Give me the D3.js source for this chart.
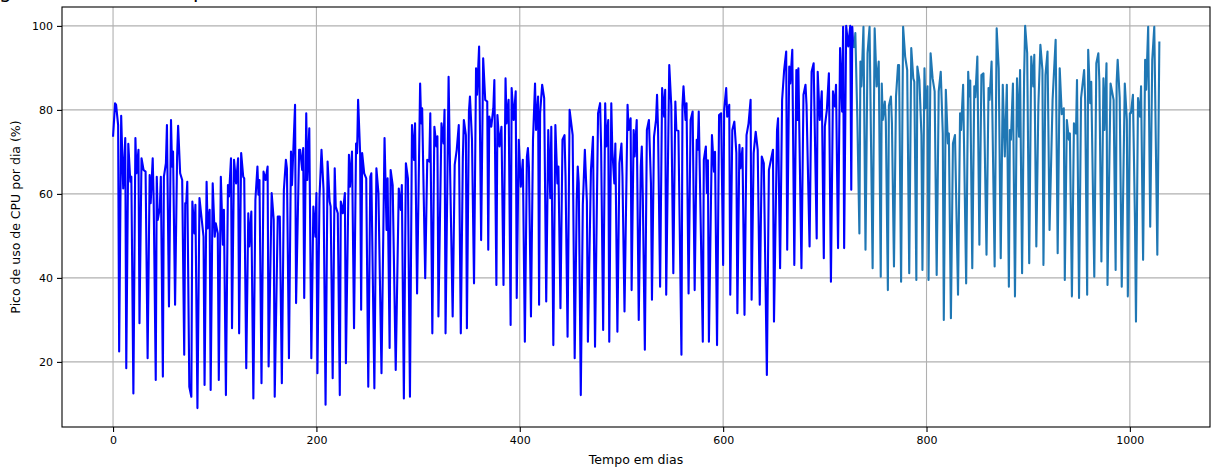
<!DOCTYPE html>
<html>
<head>
<meta charset="utf-8">
<script src="https://cdn.jsdelivr.net/npm/d3@7"></script>
<style>
html,body{margin:0;padding:0;background:#fff;}
svg{display:block;}
text{font-family:"DejaVu Sans",sans-serif;}
</style>
</head>
<body>
<svg id="chart" width="1212" height="468"></svg>
<script>
const xTicks = [0, 200, 400, 600, 800, 1000];
const yTicks = [20, 40, 60, 80, 100];
const xLabel = "Tempo em dias";
const yLabel = "Pico de uso de CPU por dia (%)";

const s1Days = [0,2,3,5,6,8,10,12,13,15,17,18,20,22,23,25,26,28,30,32,34,36,37,39,40,42,43,44,46,47,49,50,52,53,55,57,58,59,61,63,64,66,68,70,71,72,73,75,77,78,80,81,83,85,89,90,92,93,95,96,98,100,101,103,104,106,108,109,111,113,114,116,117,119,121,123,124,126,128,129,131,133,134,136,138,140,142,143,144,146,148,150,152,153,156,158,159,162,164,166,168,170,171,173,175,176,179,180,183,184,186,187,188,190,191,193,195,197,199,200,201,203,205,207,209,211,213,214,216,218,219,221,223,224,226,228,229,232,233,235,237,239,240,241,243,244,245,247,249,251,253,254,257,259,261,264,267,269,270,272,273,275,278,281,283,284,286,288,290,292,294,296,297,299,302,303,304,307,309,311,312,314,316,318,319,320,323,325,326,327,330,331,334,336,338,340,342,344,345,347,348,350,351,353,355,357,358,360,362,364,366,368,369,370,372,374,375,377,378,380,382,384,386,387,389,391,392,394,396,397,399,401,403,405,407,408,409,411,413,415,416,418,419,420,422,424,426,428,430,431,433,435,437,438,440,442,444,445,447,449,451,452,454,456,457,458,460,462,464,466,467,470,472,474,477,479,480,482,484,485,487,488,490,491,493,494,496,498,500,501,503,506,507,509,510,512,513,515,517,519,520,521,523,525,527,529,530,532,534,535,536,538,540,542,543,544,547,549,551,553,554,556,559,560,561,563,564,566,568,570,572,574,575,576,580,581,583,584,585,586,589,591,592,594,596,598,600,601,603,604,606,607,609,611,613,614,616,617,619,621,623,625,627,628,630,632,634,636,638,640,643,645,649,650,653,654,656,658,660,662,663,665,666,668,670,672,673,674,677,679,681,682,685,687,689,692,693,695,697,699,700,702,704,706,708,710,711,713,715,717,718,719,721,723,725,726,727,728];
const s1Vals = [73.6,81.6,81.2,76.4,22.5,78.6,61.3,73.3,18.5,71.9,62.9,64.1,12.5,73.3,64.9,70.5,29.2,68.5,65.7,65.3,20.9,64.5,57.8,68.5,57.8,15.7,64.1,53.8,56.6,64.1,16.5,64.1,67.3,76.4,33.2,77.6,66.5,70.1,33.6,68.9,76.2,64.9,63.3,21.7,57.8,57.9,62.9,14.1,11.7,58.2,50.6,57.4,9.0,59.0,49.8,14.5,62.9,51.8,56.2,13.3,62.5,49.8,53.0,50.6,15.7,64.1,47.9,56.2,12.1,62.1,59.4,68.5,28.0,68.1,62.5,68.5,26.8,69.7,64.1,63.7,18.5,55.4,47.5,55.8,11.3,58.6,66.5,59.8,63.3,14.9,65.3,63.3,66.5,18.9,60.2,53.8,11.7,54.6,54.6,14.9,61.0,68.1,66.1,20.9,70.1,62.1,81.2,34.0,70.5,70.5,65.7,70.9,35.2,79.2,63.3,75.6,20.9,57.0,49.8,60.2,17.3,59.0,70.5,61.0,9.8,67.7,58.2,57.0,16.1,66.1,57.0,55.4,12.1,58.2,55.4,60.2,19.7,69.3,61.7,70.1,28.0,72.0,69.7,82.4,69.7,32.4,69.7,64.9,63.7,14.1,64.1,64.9,13.7,66.1,60.2,17.3,73.3,51.4,63.7,23.3,65.7,62.1,18.1,61.3,56.2,62.1,11.3,67.3,63.7,11.7,76.4,68.1,76.8,36.3,86.3,76.8,80.4,39.9,68.1,67.7,79.2,26.8,76.0,71.3,73.7,30.8,76.8,72.0,80.0,26.8,87.9,72.0,30.8,66.9,70.5,76.4,26.8,68.5,77.6,74.0,28.0,79.6,83.2,72.9,38.7,89.9,83.6,95.1,49.0,92.3,82.4,82.0,46.7,78.4,76.0,80.4,87.1,38.3,78.8,71.3,76.0,38.3,87.5,76.8,82.4,28.8,85.2,77.6,84.4,35.2,72.9,61.7,68.1,24.8,68.9,70.9,66.5,30.8,72.9,86.3,75.2,83.2,33.6,79.2,86.0,82.8,34.4,75.2,59.0,76.0,24.0,76.4,62.5,66.5,32.8,72.9,74.0,64.1,26.0,80.0,76.0,74.0,20.9,58.6,66.5,62.5,12.1,57.4,70.5,58.2,24.8,65.7,73.6,23.6,79.2,81.6,71.0,27.6,81.6,71.3,77.6,24.8,81.6,70.5,62.5,72.0,27.2,67.3,72.0,64.1,32.0,81.2,75.2,78.0,37.1,75.2,68.9,77.6,30.0,66.5,71.3,59.4,22.9,75.2,77.6,62.5,34.8,73.6,77.6,83.6,75.2,37.9,85.2,78.4,84.8,36.0,90.7,81.0,41.1,82.0,75.2,75.0,21.7,81.0,85.6,77.6,81.6,36.3,77.6,79.6,37.1,72.9,70.5,79.6,24.8,68.1,71.3,60.2,68.0,24.8,74.0,65.3,70.0,24.0,78.8,79.2,43.1,80.0,85.2,78.4,81.2,36.0,75.2,77.2,69.7,31.6,71.7,66.1,70.9,31.2,74.0,76.8,82.4,34.8,69.7,74.8,70.5,33.6,68.9,67.3,16.9,65.7,70.5,29.6,75.2,78.0,42.3,82.4,89.5,93.9,46.7,90.3,86.3,94.3,43.1,89.5,77.6,89.9,42.3,83.6,86.0,81.2,47.5,89.1,91.1,49.4,89.1,77.6,84.4,44.7,76.0,80.0,88.7,39.1,84.4,80.8,86.0,47.1,94.7,79.6,99.8,47.1,100,95.1,100,61.0,99.8,94.7];

const s2Days = [729,730,732,734,735,736,738,740,742,744,747,749,751,753,755,756,757,759,760,762,763,765,766,768,770,772,773,775,777,779,781,783,785,787,788,790,791,793,795,796,798,799,801,802,804,806,808,810,812,814,816,817,819,821,822,824,826,828,831,833,834,836,839,841,842,843,845,847,848,850,852,854,856,857,859,861,862,864,867,869,871,873,875,877,879,881,882,883,885,887,889,891,892,894,896,897,899,901,903,905,906,908,910,912,914,915,917,919,921,924,927,929,931,933,935,936,938,940,941,943,945,947,948,950,952,955,956,958,959,961,962,965,967,969,970,972,974,975,977,978,981,984,986,987,988,990,992,995,997,998,1000,1001,1003,1005,1006,1008,1010,1011,1013,1015,1016,1018,1020,1022,1024,1027,1029];
const s2Vals = [94.7,98.3,77.6,50.6,91.5,85.6,99.8,46.7,93.5,99.8,42.3,99.4,85.6,91.5,40.3,86.3,77.6,82.0,77.0,37.1,81.0,83.2,76.8,42.7,83.2,90.7,90.7,39.1,99.8,92.7,89.5,41.1,94.7,87.5,86.7,39.5,90.3,87.1,74.0,41.9,89.9,80.4,85.6,39.5,93.5,87.5,84.4,40.7,84.4,89.1,74.4,30.0,84.8,72.0,74.4,30.4,72.0,74.0,36.0,79.2,75.2,86.0,38.7,89.1,83.2,87.0,42.3,85.6,83.0,92.7,47.9,88.3,88.7,75.2,45.5,85.2,82.4,91.5,42.7,99.4,89.9,44.7,86.0,68.9,86.0,37.9,75.2,72.9,86.3,35.6,87.5,73.6,89.5,41.1,87.9,100,93.5,43.5,92.7,85.6,93.1,47.5,81.0,95.5,89.5,43.1,88.3,93.9,51.4,82.4,96.7,45.9,89.9,79.0,80.4,39.5,77.6,72.9,74.4,35.6,76.8,74.4,87.1,35.2,82.8,89.5,82.4,36.0,94.3,81.6,86.7,40.3,91.1,93.5,86.7,43.9,87.5,75.2,91.1,38.3,86.3,82.4,41.9,86.7,91.9,82.8,37.9,86.3,77.6,35.6,79.2,79.2,83.6,53.8,29.6,82.8,78.4,85.6,44.3,91.9,84.8,99.8,52.2,91.9,99.8,45.5,96.3];

const svg = d3.select("#chart");
const L = 62, R = 1210, T = 7, B = 427;

const x = d3.scaleLinear().domain([-50.2, 1078.8]).range([L, R]);
const y = d3.scaleLinear().domain([4.5, 104.5]).range([B, T]);

// title fragments (cut off at top in reference)
svg.append("text").attr("x", -1).attr("y", -2).attr("font-family", "Liberation Serif").attr("font-size", 20).text("g");
svg.append("text").attr("x", 193).attr("y", -2).attr("font-family", "Liberation Serif").attr("font-size", 20).text("p");

// grid
const grid = svg.append("g");
grid.selectAll(".gx").data(xTicks).join("line")
  .attr("x1", d => x(d)).attr("x2", d => x(d)).attr("y1", T).attr("y2", B)
  .attr("stroke", "#b0b0b0").attr("stroke-width", 1.1);
grid.selectAll(".gy").data(yTicks).join("line")
  .attr("y1", d => y(d)).attr("y2", d => y(d)).attr("x1", L).attr("x2", R)
  .attr("stroke", "#b0b0b0").attr("stroke-width", 1.1);

svg.append("defs").append("clipPath").attr("id", "clip")
  .append("rect").attr("x", L).attr("y", T).attr("width", R - L).attr("height", B - T);

const line = d3.line().x(d => x(d[0])).y(d => y(d[1]));
const plot = svg.append("g").attr("clip-path", "url(#clip)");
plot.append("path").datum(s1Days.map((d, i) => [d, s1Vals[i]]))
  .attr("d", line).attr("fill", "none").attr("stroke", "#0000ff").attr("stroke-width", 2.1).attr("stroke-linejoin", "round");
plot.append("path").datum(s2Days.map((d, i) => [d, s2Vals[i]]))
  .attr("d", line).attr("fill", "none").attr("stroke", "#1f77b4").attr("stroke-width", 2.1).attr("stroke-linejoin", "round");

// axes
const xAxis = d3.axisBottom(x).tickValues(xTicks).tickFormat(d3.format("d")).tickSize(5).tickPadding(4);
const yAxis = d3.axisLeft(y).tickValues(yTicks).tickFormat(d3.format("d")).tickSize(5).tickPadding(4);
const gx = svg.append("g").attr("transform", `translate(0,${B})`).call(xAxis);
const gy = svg.append("g").attr("transform", `translate(${L},0)`).call(yAxis);
[gx, gy].forEach(g => {
  g.select(".domain").remove();
  g.selectAll("line").attr("stroke", "#000").attr("stroke-width", 1.1);
  g.selectAll("text").attr("font-family", "DejaVu Sans").attr("font-size", 11).attr("fill", "#000");
});

// frame
svg.append("rect").attr("x", L).attr("y", T).attr("width", R - L).attr("height", B - T)
  .attr("fill", "none").attr("stroke", "#000").attr("stroke-width", 1.1);

svg.append("text").attr("x", (L + R) / 2).attr("y", 464).attr("text-anchor", "middle")
  .attr("font-size", 12.5).text(xLabel);
svg.append("text").attr("transform", `translate(20,${(T + B) / 2}) rotate(-90)`).attr("text-anchor", "middle")
  .attr("font-size", 12.5).text(yLabel);
</script>
</body>
</html>
